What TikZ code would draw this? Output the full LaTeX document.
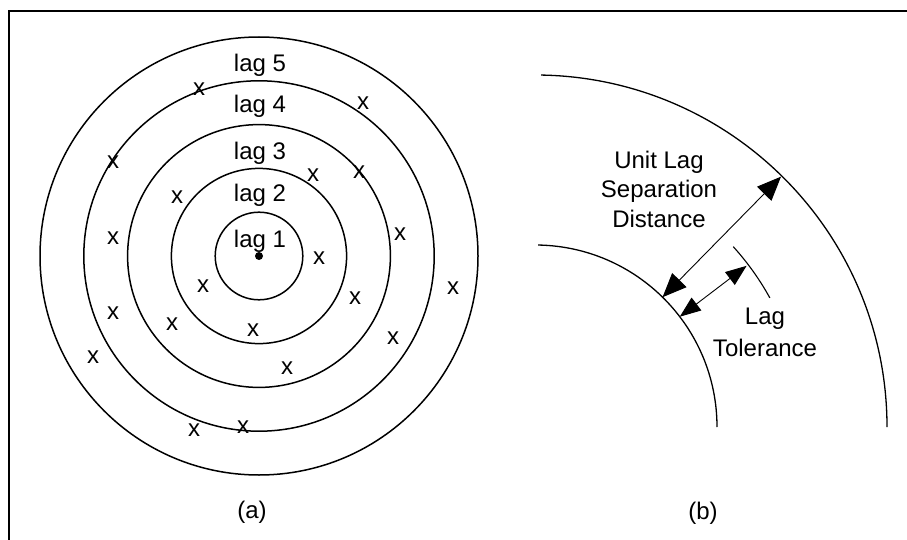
\documentclass[tikz,border=0pt]{standalone}
\usepackage{fontspec}
\setmainfont{Liberation Sans}
\usepackage{tikz}
\usetikzlibrary{calc, arrows.meta}

\begin{document}
\begin{tikzpicture}[x=1pt, y=1pt,
        label_lag/.style={font=\fontsize{24}{29.5}\selectfont, anchor=base, inner sep=0pt},
        mark_x/.style={font=\fontsize{24}{29.5}\selectfont, inner sep=0pt},
        text_note/.style={font=\fontsize{24}{29.5}\selectfont, align=center, inner sep=0pt},
        ring/.style={draw, line width=1.5pt},
        arc_line/.style={line width=1.3pt},
        dim_arrow/.style={<->, >={Triangle[length=24pt, width=20pt]}, line width=0.9pt},
        tol_arrow/.style={<->, >={Triangle[length=21pt, width=16pt]}, line width=0.9pt}
    ]
    \useasboundingbox (0,0) rectangle (907,-540);

    % ==================== Frame ====================
    \draw[line width=2pt] (8.5,-540) -- (8.5,-11) -- (907,-11);

    % ==================== Lag rings (Left) ====================
    \coordinate (ctr_a) at (259,-256);
    \foreach \r in {1,...,5}
        \draw[ring] (ctr_a) circle[radius=43.8*\r];
    \fill (ctr_a) circle[radius=4];

    % Labels
    \node[label_lag] (lag5) at (260,-72) {lag 5};
    \node[label_lag] (lag4) at (260,-113) {lag 4};
    \node[label_lag] (lag3) at (260,-160) {lag 3};
    \node[label_lag] (lag2) at (260,-202) {lag 2};
    \node[label_lag] (lag1) at (260,-247) {lag 1};

    % Data points
    \foreach \px/\py [count=\i] in {199/89, 363/103, 113/162, 359/172, 313/175,
            177/197, 113/238, 400/234, 319/258, 453/288, 203/286, 355/298,
            113/313, 172/324, 253/330, 393/338, 93/357, 287/368, 194/430, 243/427}
        \node[mark_x] (x\i) at (\px,-\py) {x};

    \node[text_note] (cap_a) at (252,-512) {(a)};

    % ==================== Lag tolerance (Right) ====================
    \coordinate (ctr_b) at (535,-427);
    \draw[arc_line] ($(ctr_b)+(89:182)$) arc[start angle=89, end angle=0, radius=182];
    \draw[arc_line] ($(ctr_b)+(89:352)$) arc[start angle=89, end angle=0, radius=352];
    \draw[line width=1.1pt] ($(ctr_b)+(42.3:268)$) arc[start angle=42.3, end angle=28.8, radius=268];

    % Arrows
    \coordinate (sep_in) at ($(ctr_b)+(45.5:182)$);
    \coordinate (sep_out) at ($(ctr_b)+(45.5:351)$);
    \coordinate (tol_in) at ($(ctr_b)+(37.3:182)$);
    \coordinate (tol_out) at ($(ctr_b)+(37.3:266)$);
    \draw[dim_arrow] (sep_in) -- (sep_out);
    \draw[tol_arrow] (tol_in) -- (tol_out);

    \node[text_note] (sep_text) at (659,-189) {Unit Lag\\Separation\\Distance};
    \node[text_note] (tol_text) at (765,-332) {Lag\\[2.5pt]Tolerance};

    \node[text_note] (cap_b) at (703,-513) {(b)};

\end{tikzpicture}
\end{document}
